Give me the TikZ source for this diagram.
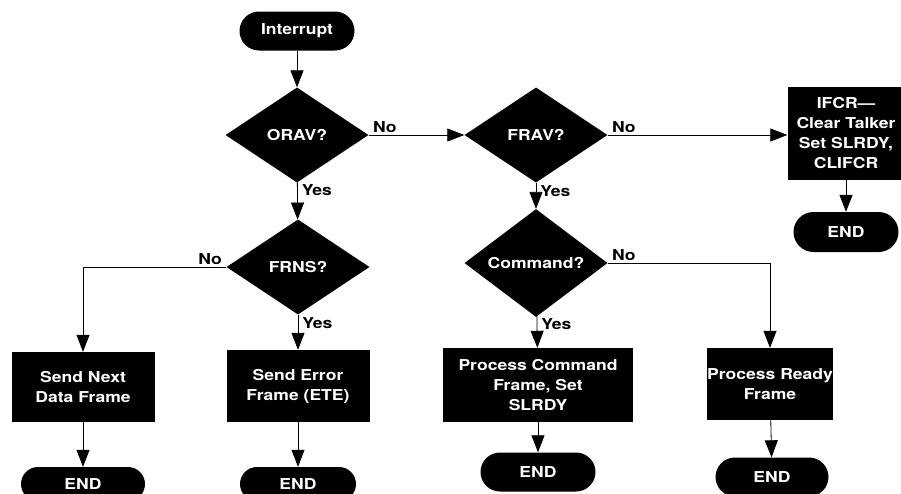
\documentclass[tikz,border=0pt]{standalone}
\usepackage{fontspec}
\setmainfont{TeX Gyre Heros}[FakeStretch=1.17]
\usetikzlibrary{arrows.meta,shapes.geometric}

\begin{document}
\begin{tikzpicture}[x=1pt,y=-1pt,
  font=\fontsize{15}{20}\selectfont\bfseries,
  term/.style={fill=black,text=white,rounded corners=19.5pt,minimum width=115pt,minimum height=39pt,inner sep=0pt},
  proc/.style={fill=black,text=white,align=center,inner sep=0pt},
  dec/.style={diamond,fill=black,text=white,minimum width=143pt,minimum height=95pt,inner sep=0pt},
  flow/.style={-{Triangle[width=13pt,length=17pt]},line width=0.8pt},
  lbl/.style={inner xsep=4pt,inner ysep=2pt}]
\useasboundingbox (0,0) rectangle (901,493);

%start and decisions
\node[term] (int) at (297,31) {Interrupt};
\node[dec] (orav) at (297,135) {ORAV?};
\node[dec] (frav) at (536,135) {FRAV?};
\node[dec] (frns) at (298,267) {FRNS?};
\node[dec,minimum height=98pt] (cmd) at (536,263) {Command?};

%process boxes
\node[proc,minimum width=117pt,minimum height=93pt] (ifcr) at (846,133) {IFCR---\\Clear Talker\\Set SLRDY,\\CLIFCR};
\node[proc,minimum width=143pt,minimum height=70pt] (next) at (83,387) {Send Next\\Data Frame};
\node[proc,minimum width=143pt,minimum height=72pt] (err) at (298,386) {Send Error\\Frame (ETE)};
\node[proc,minimum width=190pt,minimum height=74pt] (pcmd) at (538,385) {Process Command\\Frame, Set\\SLRDY};
\node[proc,minimum width=125pt,minimum height=72pt] (prdy) at (770,384) {Process Ready\\Frame};

%end terminals
\node[term,minimum width=105pt,minimum height=40pt,rounded corners=20pt] (end1) at (846,232) {END};
\node[term,minimum width=124pt,minimum height=34pt,rounded corners=17pt] (end2) at (83,484) {END};
\node[term,minimum width=116pt,minimum height=34pt,rounded corners=17pt] (end3) at (298,484) {END};
\node[term] (end4) at (538,472) {END};
\node[term,minimum width=113pt] (end5) at (772,477) {END};

%arrows
\draw[flow] (int) -- (orav);
\draw[flow] (orav) -- (frns) node[lbl,pos=0,anchor=north west] (y1) {Yes};
\draw[flow] (orav) -- (frav) node[lbl,pos=0,anchor=south west] (n1) {No};
\draw[flow] (frav.east) -- (frav.east -| ifcr.west) node[lbl,pos=0,anchor=south west] (n2) {No};
\draw[flow] (frav) -- (cmd) node[lbl,pos=0,anchor=north west] (y2) {Yes};
\draw[flow] (ifcr) -- (end1);
\draw[flow] (frns.west) -| (next.north) node[lbl,pos=0,anchor=south east] (n3) {No};
\draw[flow] (frns) -- (err) node[lbl,pos=0,anchor=north west] (y3) {Yes};
\draw[flow] (next) -- (end2);
\draw[flow] (err) -- (end3);
\draw[flow] (cmd) -- (pcmd) node[lbl,pos=0,anchor=north west] (y4) {Yes};
\draw[flow] (cmd.east) -| (prdy.north) node[lbl,pos=0,anchor=south west] (n4) {No};
\draw[flow] (pcmd) -- (end4);
\draw[flow] (prdy) -- (end5);
\end{tikzpicture}
\end{document}
